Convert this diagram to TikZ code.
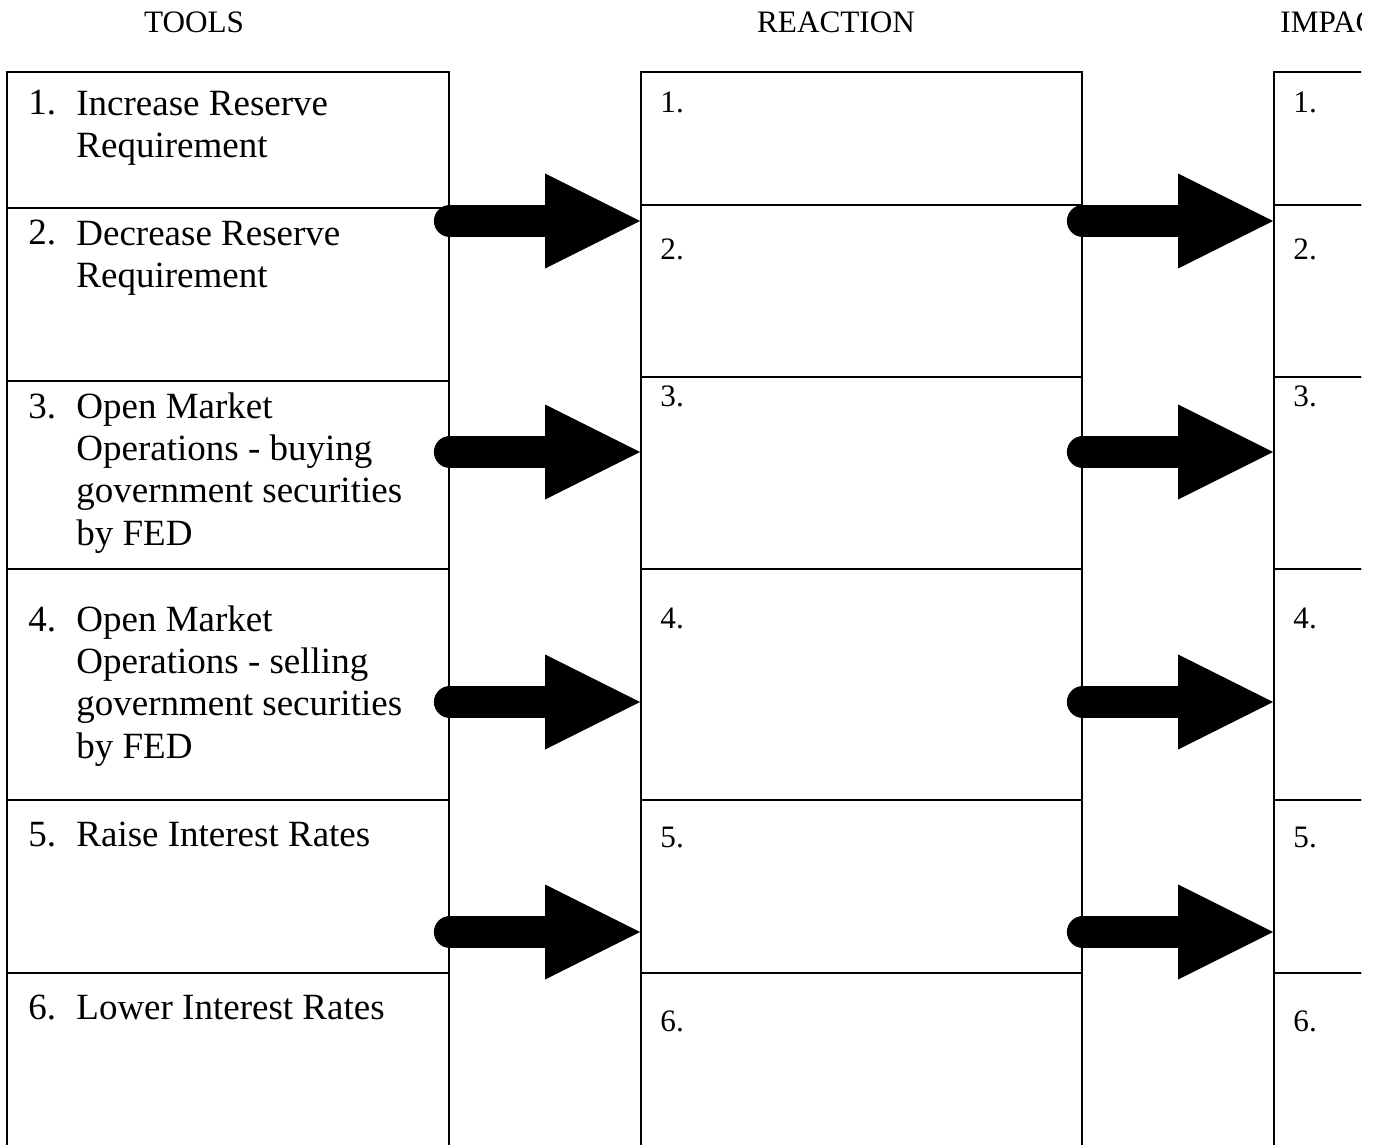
\documentclass[tikz,border=0pt]{standalone}
\usepackage{fontspec}
\setmainfont{Liberation Serif}
\usetikzlibrary{calc,fit}

\begin{document}
\begin{tikzpicture}[x=0.5pt,y=-0.5pt,
  cell/.style={draw, line width=0.9pt, inner sep=0pt},
  colhead/.style={font=\fontsize{15.6}{18}\selectfont, anchor=base, inner sep=0pt},
  num/.style={font=\fontsize{15.6}{18}\selectfont, anchor=base west, inner sep=0pt},
  toolnum/.style={font=\fontsize{18.5}{21.2}\selectfont, anchor=base west, inner sep=0pt},
  tooltext/.style={font=\fontsize{18.5}{21.2}\selectfont, anchor=north west, inner sep=0pt, align=left},
  shaft/.style={line width=16pt, line cap=round},
]
\useasboundingbox (0,0) rectangle (1378,1145);
\clip (0,0) rectangle (1361,1145);

% column headings
\node[colhead] (hTools) at (194,33) {TOOLS};
\node[colhead] (hReact) at (836,33) {REACTION};
\node[colhead, anchor=base west] (hImpact) at (1280,33) {IMPACT};

% table cells of the three columns
\foreach \i/\a/\b in {1/72/208, 2/208/381, 3/381/569, 4/569/800, 5/800/973, 6/973/1175}
  \node[cell, fit={(7,\a) (449,\b)}] (tool\i) {};
\foreach \i/\a/\b in {1/72/205, 2/205/377, 3/377/569, 4/569/800, 5/800/973, 6/973/1175} {
  \node[cell, fit={(641,\a) (1082,\b)}] (react\i) {};
  \node[cell, fit={(1274,\a) (1420,\b)}] (impact\i) {};
}

% monetary policy tools
\node[toolnum] (tn1) at (28,115) {1.};
\node[tooltext] (tt1) at (76,85) {\strut Increase Reserve\\Requirement};
\node[toolnum] (tn2) at (28,245) {2.};
\node[tooltext] (tt2) at (76,215) {\strut Decrease Reserve\\Requirement};
\node[toolnum] (tn3) at (28,418) {3.};
\node[tooltext] (tt3) at (76,388) {\strut Open Market\\Operations - buying\\government securities\\by FED};
\node[toolnum] (tn4) at (28,631) {4.};
\node[tooltext] (tt4) at (76,601) {\strut Open Market\\Operations - selling\\government securities\\by FED};
\node[toolnum] (tn5) at (28,846) {5.};
\node[tooltext] (tt5) at (76,816) {\strut Raise Interest Rates};
\node[toolnum] (tn6) at (28,1019) {6.};
\node[tooltext] (tt6) at (76,989) {\strut Lower Interest Rates};

% numbering of the reaction and impact cells
\foreach \i/\y in {1/113, 2/259, 3/406, 4/628, 5/847, 6/1031} {
  \node[num] (rn\i) at (660,\y) {\i.};
  \node[num] (in\i) at (1293,\y) {\i.};
}

% block arrows: tools -> reaction -> impact
\foreach \k/\y in {1/221, 2/452, 3/702, 4/932} {
  \coordinate (ta\k) at (tool1.east |- 0,\y);
  \coordinate (ra\k) at (react1.west |- 0,\y);
  \coordinate (rb\k) at (react1.east |- 0,\y);
  \coordinate (ia\k) at (impact1.west |- 0,\y);
  \draw[shaft] (ta\k) -- ($(ra\k)+(-95,0)$);
  \fill ($(ra\k)+(-95,-47.5)$) -- (ra\k) -- ($(ra\k)+(-95,47.5)$) -- cycle;
  \draw[shaft] (rb\k) -- ($(ia\k)+(-95,0)$);
  \fill ($(ia\k)+(-95,-47.5)$) -- (ia\k) -- ($(ia\k)+(-95,47.5)$) -- cycle;
}
\end{tikzpicture}
\end{document}
